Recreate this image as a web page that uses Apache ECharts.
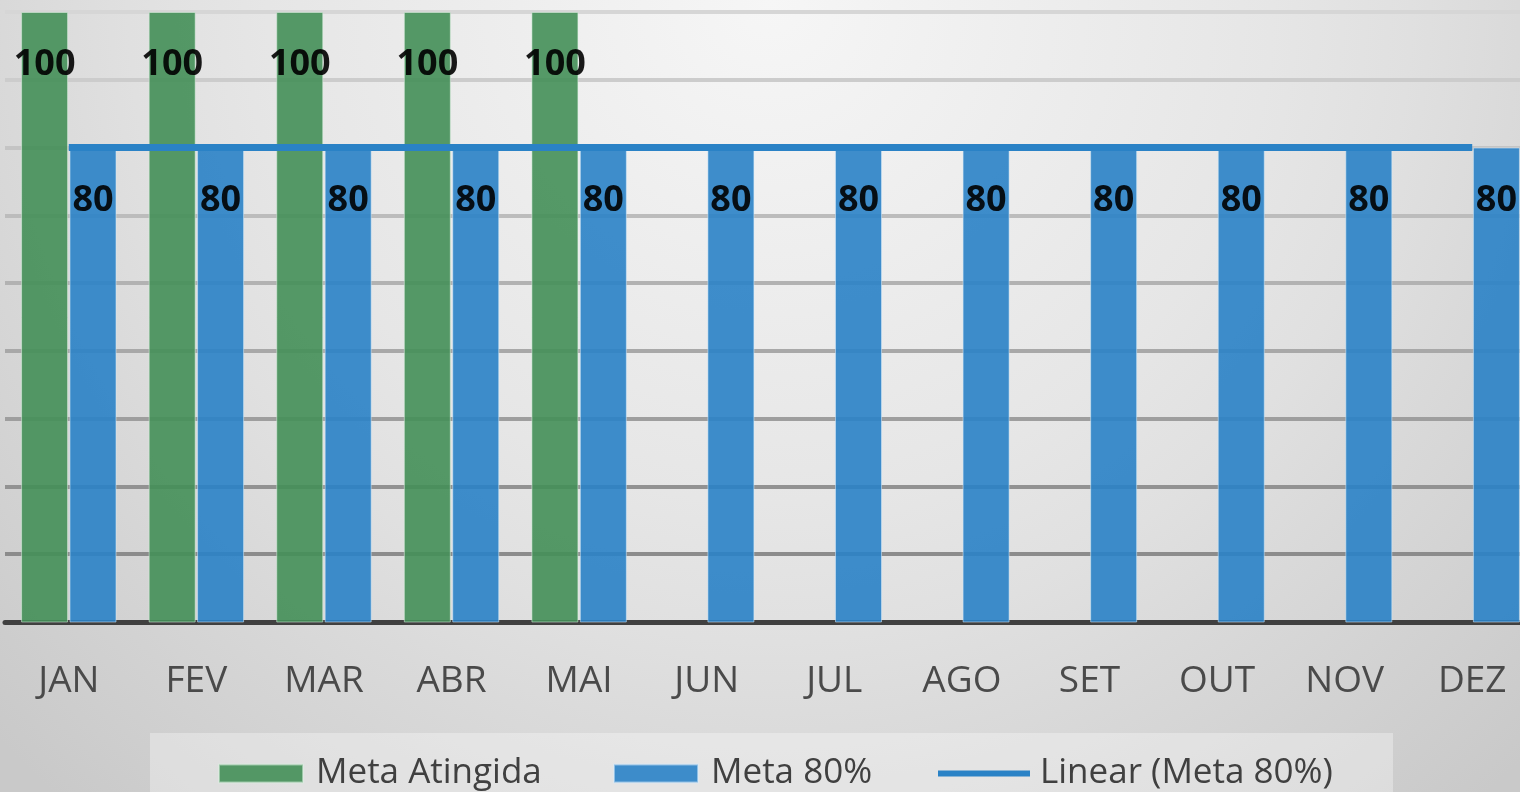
<!DOCTYPE html>
<html>
<head>
<meta charset="utf-8">
<script src="https://cdn.jsdelivr.net/npm/echarts@6/dist/echarts.min.js"></script>
<style>
html,body{margin:0;padding:0;overflow:hidden;width:1520px;height:792px;}
#chart{width:1540px;height:792px;}
</style>
</head>
<body>
<div id="chart"></div>
<script>
const categories = ['JAN','FEV','MAR','ABR','MAI','JUN','JUL','AGO','SET','OUT','NOV','DEZ'];
const metaAtingida = [100,100,100,100,100,null,null,null,null,null,null,null];
const meta80 = [80,80,80,80,80,80,80,80,80,80,80,80];
const linearMeta80 = [80,80,80,80,80,80,80,80,80,80,80,80];
const seriesNames = ['Meta Atingida','Meta 80%','Linear (Meta 80%)'];

const FONT = 'Open Sans';
const chart = echarts.init(document.getElementById('chart'));

const labelStyle = {
  show: true, position: 'insideTop', distance: 35,
  color: '#000', fontWeight: 'bold', fontSize: 36, fontFamily: FONT
};
const legendText = { fontSize: 35, color: '#404040', fontFamily: FONT, lineHeight: 36 };

chart.setOption({
  backgroundColor: {
    type: 'radial', x: 0.5, y: 0.0, r: 1.35,
    colorStops: [
      {offset: 0, color: '#f6f6f6'},
      {offset: 0.47, color: '#e6e6e6'},
      {offset: 0.6, color: '#e0e0e0'},
      {offset: 0.7, color: '#dadada'},
      {offset: 1, color: '#c9c9c9'}
    ]
  },
  animation: false,
  graphic: [{
    type: 'rect', left: 150, top: 733, silent: true, z: 0,
    shape: {width: 1243, height: 70},
    style: {fill: 'rgba(255,255,255,0.32)'}
  }],
  grid: {left: 5, top: 12, right: 4, height: 610, containLabel: false},
  xAxis: {
    type: 'category', data: categories, boundaryGap: true,
    axisLine: {show: true, lineStyle: {color: '#404040', width: 5}},
    axisTick: {show: false},
    axisLabel: {margin: 41, fontSize: 37, color: '#4a4a4a', fontFamily: FONT}
  },
  yAxis: {
    type: 'value', min: 10, max: 100, interval: 10,
    axisLabel: {show: false}, axisLine: {show: false}, axisTick: {show: false},
    splitLine: {show: true, lineStyle: {width: 4, color: ['#404040','#8c8c8c','#929292','#9e9e9e','#a8a8a8','#b2b2b2','#bcbcbc','#c4c4c4','#cccccc','#d6d6d6']}}
  },
  legend: [
    {data: [seriesNames[0]], left: 218, top: 752, padding: 0, icon: 'rect', itemWidth: 84, itemHeight: 18, selectedMode: false,
     textStyle: Object.assign({padding: [7,0,0,8]}, legendText)},
    {data: [seriesNames[1]], left: 613, top: 752, padding: 0, icon: 'rect', itemWidth: 84, itemHeight: 18, selectedMode: false,
     textStyle: Object.assign({padding: [7,0,0,8]}, legendText)},
    {data: [seriesNames[2]], left: 938, top: 752, padding: 0, icon: 'rect', itemWidth: 92, itemHeight: 6, selectedMode: false,
     textStyle: Object.assign({padding: [7,0,0,5]}, legendText)}
  ],
  series: [
    {
      name: seriesNames[0], type: 'bar', data: metaAtingida,
      barWidth: 47, barGap: '3%',
      itemStyle: {color: '#448f58', opacity: 0.9, borderColor: 'rgba(220,240,225,0.6)', borderWidth: 1},
      label: labelStyle, z: 2
    },
    {
      name: seriesNames[1], type: 'bar', data: meta80,
      barWidth: 47, barGap: '3%',
      itemStyle: {color: '#2a82c6', opacity: 0.9, borderColor: 'rgba(215,235,250,0.6)', borderWidth: 1},
      label: labelStyle, z: 2
    },
    {
      name: seriesNames[2], type: 'line', data: linearMeta80,
      symbol: 'none', z: 5,
      lineStyle: {color: '#2a82c6', width: 7},
      itemStyle: {color: '#2a82c6'}
    }
  ]
});
</script>
</body>
</html>
